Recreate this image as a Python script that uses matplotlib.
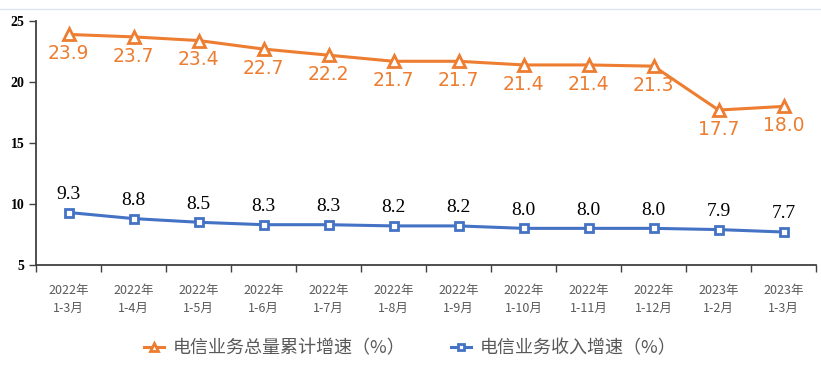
import matplotlib
matplotlib.use("Agg")
import matplotlib.pyplot as plt
from matplotlib.lines import Line2D
from matplotlib.ticker import FixedLocator

plt.rcParams['font.family'] = ['Noto Sans CJK SC', 'DejaVu Sans']

periods = ["2022年\n1-3月", "2022年\n1-4月", "2022年\n1-5月", "2022年\n1-6月",
           "2022年\n1-7月", "2022年\n1-8月", "2022年\n1-9月", "2022年\n1-10月",
           "2022年\n1-11月", "2022年\n1-12月", "2023年\n1-2月", "2023年\n1-3月"]
volume_growth = [23.9, 23.7, 23.4, 22.7, 22.2, 21.7, 21.7, 21.4, 21.4, 21.3, 17.7, 18.0]
revenue_growth = [9.3, 8.8, 8.5, 8.3, 8.3, 8.2, 8.2, 8.0, 8.0, 8.0, 7.9, 7.7]
yticks = [5, 10, 15, 20, 25]

ORANGE = '#ED7D31'
BLUE = '#4472C4'

fig = plt.figure(figsize=(8.21, 3.69), dpi=100)
ax = fig.add_axes([0.044, 0.282, 0.950, 0.661])

x = list(range(len(periods)))
ax.plot(x, volume_growth, color=ORANGE, lw=2.2, marker='^', ms=8,
        mfc='white', mec=ORANGE, mew=2, label='电信业务总量累计增速（%）')
ax.plot(x, revenue_growth, color=BLUE, lw=2.2, marker='s', ms=6,
        mfc='white', mec=BLUE, mew=2, label='电信业务收入增速（%）')

for i, v in enumerate(volume_growth):
    ax.annotate(f"{v:.1f}", (i, v), xytext=(0, -7), textcoords='offset points',
                ha='center', va='top', color=ORANGE, fontsize=13.5,
                family='DejaVu Sans')
for i, v in enumerate(revenue_growth):
    ax.annotate(f"{v:.1f}", (i, v), xytext=(0, 7), textcoords='offset points',
                ha='center', va='bottom', color='black', fontsize=14,
                family='Liberation Serif')

ax.set_xlim(-0.5, len(periods) - 0.5)
ax.set_ylim(5, 25)
ax.set_yticks(yticks)
ax.set_yticklabels([str(t) for t in yticks], family='Liberation Serif',
                   fontweight='bold', fontsize=10)

ax.set_xticks(x)
ax.set_xticklabels(periods, fontsize=9, color='#595959', linespacing=1.5)
ax.tick_params(axis='x', which='major', length=0, pad=14)
ax.xaxis.set_minor_locator(FixedLocator([i - 0.5 for i in range(len(periods) + 1)]))
ax.tick_params(axis='x', which='minor', length=5, width=1, color='#404040')
ax.tick_params(axis='y', length=5, width=1, color='#404040')

for s in ['top', 'right']:
    ax.spines[s].set_visible(False)
for s in ['left', 'bottom']:
    ax.spines[s].set_color('#404040')
    ax.spines[s].set_linewidth(1.3)

fig.add_artist(Line2D([0, 1], [1 - 9 / 369, 1 - 9 / 369], color='#DCE6F0', lw=1))

fig.legend(loc='center', bbox_to_anchor=(0.5, 1 - 348 / 369), ncol=2, frameon=False,
           fontsize=13, labelcolor='#595959', handlelength=1.1, columnspacing=2.5,
           handletextpad=0.5, markerscale=0.65)

fig.savefig('out.png', dpi=100, facecolor='white')
